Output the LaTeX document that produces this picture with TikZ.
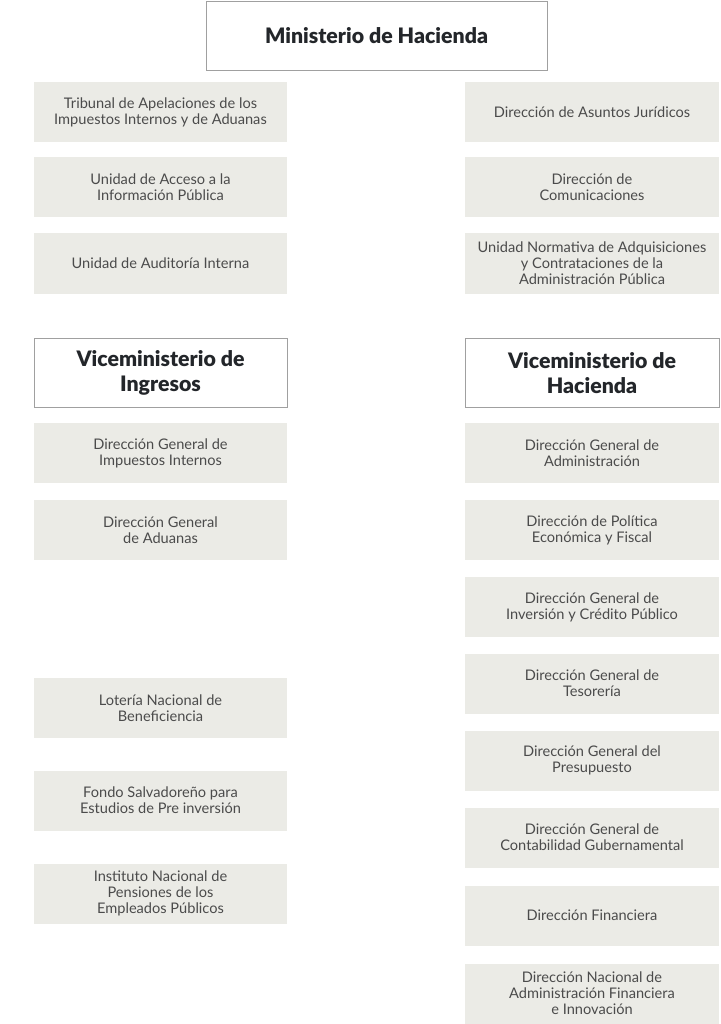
\documentclass[tikz,border=0pt]{standalone}
\usepackage{fontspec}
\setmainfont{Lato}[BoldFont={Lato Black}]
\usepackage{xcolor}
\usepackage{tikz}
\definecolor{boxfill}{RGB}{235,235,230}
\definecolor{boxline}{RGB}{160,160,160}
\definecolor{bodytext}{RGB}{75,75,75}
\definecolor{headtext}{RGB}{35,38,42}

\begin{document}
\begin{tikzpicture}[x=1pt,y=-1pt,
    unit/.style={fill=boxfill,draw=none,minimum height=60pt,inner sep=0pt,align=center,
      text=bodytext,font=\fontsize{14.6}{16}\selectfont},
    leftunit/.style={unit,minimum width=253pt},
    rightunit/.style={unit,minimum width=254pt},
    headbox/.style={fill=white,draw=boxline,line width=0.8pt,minimum height=69pt,inner sep=0pt,
      align=center,text=headtext,font=\fontsize{21.3}{25}\selectfont\bfseries}]
      \useasboundingbox (0,0) rectangle (720,1024);
      % cabecera
      \node [headbox,minimum width=341pt] (minist) at (376.5,35.5) {Ministerio de Hacienda};
      % unidades adscritas al despacho
      \node [leftunit] (tribunal) at (160.5,112.5) {Tribunal de Apelaciones de los\\Impuestos Internos y de Aduanas};
      \node [leftunit] (acceso) at (160.5,187.5) {Unidad de Acceso a la\\Información Pública};
      \node [leftunit] (auditoria) at (160.5,263.5) {Unidad de Auditoría Interna};
      \node [rightunit] (juridicos) at (592,112.5) {Dirección de Asuntos Jurídicos};
      \node [rightunit] (comunic) at (592,187.5) {Dirección de\\Comunicaciones};
      \node [rightunit] (adquis) at (592,263.5) {Unidad Normativa de Adquisiciones\\y Contrataciones de la\\Administración Pública};
      % viceministerios
      \node [headbox,minimum width=253pt] (viceingr) at (160.5,372.5) {Viceministerio de\\Ingresos};
      \node [headbox,minimum width=254pt] (vicehac) at (592,373) {Viceministerio de\\Hacienda};
      % ingresos
      \node [leftunit] (impuestos) at (160.5,453) {Dirección General de\\Impuestos Internos};
      \node [leftunit] (aduanas) at (160.5,530) {Dirección General\\de Aduanas};
      \node [leftunit] (loteria) at (160.5,708) {Lotería Nacional de\\Beneficiencia};
      \node [leftunit] (fondo) at (160.5,800.5) {Fondo Salvadoreño para\\Estudios de Pre inversión};
      \node [leftunit] (inpep) at (160.5,893.5) {Instituto Nacional de\\Pensiones de los\\Empleados Públicos};
      % hacienda
      \node [rightunit] (admin) at (592,453) {Dirección General de\\Administración};
      \node [rightunit] (politica) at (592,530) {Dirección de Política\\Económica y Fiscal};
      \node [rightunit] (inversion) at (592,607) {Dirección General de\\Inversión y Crédito Público};
      \node [rightunit] (tesoreria) at (592,683.5) {Dirección General de\\Tesorería};
      \node [rightunit] (presup) at (592,760.5) {Dirección General del\\Presupuesto};
      \node [rightunit] (contab) at (592,837.5) {Dirección General de\\Contabilidad Gubernamental};
      \node [rightunit] (financ) at (592,915.5) {Dirección Financiera};
      \node [rightunit] (dinafi) at (592,993.5) {Dirección Nacional de\\Administración Financiera\\e Innovación};
\end{tikzpicture}
\end{document}
